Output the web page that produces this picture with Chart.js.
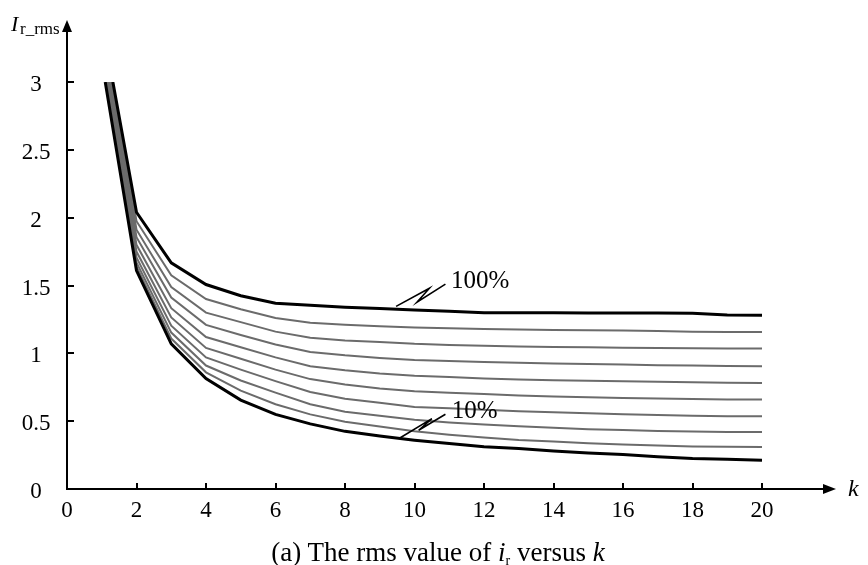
<!DOCTYPE html>
<html lang="en">
<head>
<meta charset="UTF-8" />
<title>rms value of ir versus k</title>
<script src="https://cdn.jsdelivr.net/npm/chart.js@4.4.0/dist/chart.umd.min.js"></script>
<style>
  html, body { margin: 0; padding: 0; background: #fff; }
  #wrap { position: relative; width: 868px; height: 565px; }
  .caption {
    position: absolute; left: 4px; top: 536px; width: 868px;
    text-align: center; font: 27px "Liberation Serif", "Times New Roman", serif;
    line-height: 32px; color: #000;
  }
  .caption sub { font-size: 14px; line-height: 0; vertical-align: -4px; }
</style>
</head>
<body>
<div id="wrap">
  <canvas id="myChart" width="868" height="565"></canvas>
  <div class="caption">(a) The rms value of <i>i</i><sub>r</sub> versus <i>k</i></div>
</div>

<script>
// k values (the curves are cut off at the top of the axis, value 3)
const kValues = [2, 3, 4, 5, 6, 7, 8, 9, 10, 11, 12, 13, 14, 15, 16, 17, 18, 19, 20];
const topValue = 3;
const seriesNames = ["100%", "90%", "80%", "70%", "60%", "50%", "40%", "30%", "20%", "10%"];
const startK = [1.32, 1.30, 1.275, 1.25, 1.225, 1.20, 1.175, 1.15, 1.125, 1.10];

const r100 = [2.04, 1.667, 1.507, 1.425, 1.37, 1.355, 1.34, 1.33, 1.32, 1.31, 1.30, 1.30, 1.30, 1.298, 1.298, 1.298, 1.295, 1.282, 1.281];
const r90  = [1.974, 1.575, 1.40, 1.325, 1.26, 1.225, 1.21, 1.20, 1.19, 1.185, 1.18, 1.175, 1.172, 1.17, 1.168, 1.164, 1.16, 1.158, 1.158];
const r80  = [1.911, 1.488, 1.30, 1.23, 1.16, 1.115, 1.095, 1.084, 1.07, 1.062, 1.056, 1.05, 1.047, 1.044, 1.042, 1.04, 1.038, 1.036, 1.035];
const r70  = [1.856, 1.411, 1.21, 1.135, 1.065, 1.01, 0.985, 0.966, 0.95, 0.943, 0.937, 0.93, 0.925, 0.921, 0.917, 0.913, 0.91, 0.907, 0.905];
const r60  = [1.80, 1.333, 1.12, 1.045, 0.97, 0.905, 0.875, 0.851, 0.835, 0.825, 0.815, 0.808, 0.802, 0.798, 0.795, 0.791, 0.787, 0.784, 0.782];
const r50  = [1.75, 1.265, 1.04, 0.96, 0.88, 0.81, 0.77, 0.74, 0.72, 0.71, 0.70, 0.69, 0.682, 0.676, 0.671, 0.667, 0.663, 0.66, 0.659];
const r40  = [1.707, 1.204, 0.97, 0.88, 0.795, 0.715, 0.665, 0.635, 0.605, 0.595, 0.585, 0.574, 0.565, 0.558, 0.551, 0.545, 0.54, 0.537, 0.536];
const r30  = [1.67, 1.153, 0.91, 0.80, 0.71, 0.625, 0.57, 0.54, 0.51, 0.49, 0.475, 0.462, 0.452, 0.441, 0.434, 0.428, 0.424, 0.421, 0.420];
const r20  = [1.638, 1.109, 0.86, 0.725, 0.625, 0.55, 0.495, 0.46, 0.425, 0.40, 0.38, 0.362, 0.35, 0.338, 0.328, 0.32, 0.314, 0.311, 0.310];
const r10  = [1.61, 1.07, 0.814, 0.655, 0.55, 0.48, 0.425, 0.39, 0.36, 0.335, 0.312, 0.298, 0.28, 0.265, 0.255, 0.237, 0.224, 0.22, 0.212];

const xTicks = [0, 2, 4, 6, 8, 10, 12, 14, 16, 18, 20];
const yTicks = [0, 0.5, 1, 1.5, 2, 2.5, 3];
const yTickLabels = ["0", "0.5", "1", "1.5", "2", "2.5", "3"];

const allSeries = [r100, r90, r80, r70, r60, r50, r40, r30, r20, r10];

const FONT = '"Liberation Serif", "Times New Roman", serif';

// build Chart.js datasets
const datasets = allSeries.map(function (vals, i) {
  const pts = [{ x: startK[i], y: topValue }];
  kValues.forEach(function (k, j) { pts.push({ x: k, y: vals[j] }); });
  const edge = (i === 0 || i === allSeries.length - 1);
  return {
    label: seriesNames[i],
    data: pts,
    borderColor: edge ? "#000000" : "#6b6b6b",
    borderWidth: edge ? 3 : 2,
    pointRadius: 0,
    tension: 0,
    fill: false,
    order: edge ? 0 : 1
  };
});

// axes, arrows, ticks, labels and the two curve labels
const axesPlugin = {
  id: "axesPlugin",
  afterDraw: function (chart) {
    const ctx = chart.ctx;
    const xs = chart.scales.x;
    const ys = chart.scales.y;
    const x0 = xs.getPixelForValue(0);
    const y0 = ys.getPixelForValue(0);

    ctx.save();
    ctx.strokeStyle = "#000";
    ctx.fillStyle = "#000";
    ctx.lineWidth = 2;

    // y axis with arrow
    const yTip = 20;
    ctx.beginPath();
    ctx.moveTo(x0, y0 + 1);
    ctx.lineTo(x0, yTip + 8);
    ctx.stroke();
    ctx.beginPath();
    ctx.moveTo(x0, yTip);
    ctx.lineTo(x0 - 5, yTip + 12);
    ctx.lineTo(x0 + 5, yTip + 12);
    ctx.closePath();
    ctx.fill();

    // x axis with arrow
    const xTip = 836;
    ctx.beginPath();
    ctx.moveTo(x0 - 1, y0);
    ctx.lineTo(xTip - 8, y0);
    ctx.stroke();
    ctx.beginPath();
    ctx.moveTo(xTip, y0);
    ctx.lineTo(xTip - 13, y0 - 5);
    ctx.lineTo(xTip - 13, y0 + 5);
    ctx.closePath();
    ctx.fill();

    // ticks (inside)
    xTicks.forEach(function (t) {
      if (t === 0) return;
      const px = Math.round(xs.getPixelForValue(t));
      ctx.beginPath();
      ctx.moveTo(px, y0);
      ctx.lineTo(px, y0 - 6);
      ctx.stroke();
    });
    yTicks.forEach(function (t) {
      if (t === 0) return;
      const py = Math.round(ys.getPixelForValue(t));
      ctx.beginPath();
      ctx.moveTo(x0, py);
      ctx.lineTo(x0 + 7, py);
      ctx.stroke();
    });

    // tick labels
    ctx.font = "23px " + FONT;
    ctx.textAlign = "center";
    ctx.textBaseline = "middle";
    xTicks.forEach(function (t) {
      ctx.fillText(String(t), xs.getPixelForValue(t), y0 + 22);
    });
    yTicks.forEach(function (t, i) {
      ctx.fillText(yTickLabels[i], 36, ys.getPixelForValue(t) + 3);
    });

    // axis titles
    ctx.textAlign = "left";
    ctx.textBaseline = "alphabetic";
    ctx.font = "italic 22px " + FONT;
    ctx.fillText("I", 11, 31);
    ctx.font = "17px " + FONT;
    ctx.fillText("r_rms", 20, 34);
    ctx.font = "italic 24px " + FONT;
    ctx.fillText("k", 848, 496);

    // curve labels with break-style leaders
    const notes = [
      { text: "100%", tk: 11.05, tv: 1.53, path: [[9.47, 1.346], [10.43, 1.48], [10.07, 1.377], [10.89, 1.51]] },
      { text: "10%",  tk: 11.07, tv: 0.575, path: [[9.59, 0.378], [10.50, 0.519], [10.12, 0.433], [10.89, 0.551]] }
    ];
    ctx.lineWidth = 1.6;
    ctx.font = "25px " + FONT;
    ctx.textBaseline = "middle";
    notes.forEach(function (n) {
      ctx.beginPath();
      n.path.forEach(function (p, i) {
        const px = xs.getPixelForValue(p[0]);
        const py = ys.getPixelForValue(p[1]);
        if (i === 0) ctx.moveTo(px, py); else ctx.lineTo(px, py);
      });
      ctx.stroke();
      ctx.fillText(n.text, xs.getPixelForValue(n.tk), ys.getPixelForValue(n.tv));
    });

    ctx.restore();
  }
};

const ctx = document.getElementById("myChart").getContext("2d");
const chart = new Chart(ctx, {
  type: "line",
  data: { datasets: datasets },
  options: {
    responsive: false,
    animation: false,
    layout: { padding: { left: 67, right: 106, top: 82, bottom: 76 } },
    plugins: { legend: { display: false }, tooltip: { enabled: false } },
    scales: {
      x: { type: "linear", min: 0, max: 20, display: false },
      y: { type: "linear", min: 0, max: 3, display: false }
    }
  },
  plugins: [axesPlugin]
});
</script>
</body>
</html>
